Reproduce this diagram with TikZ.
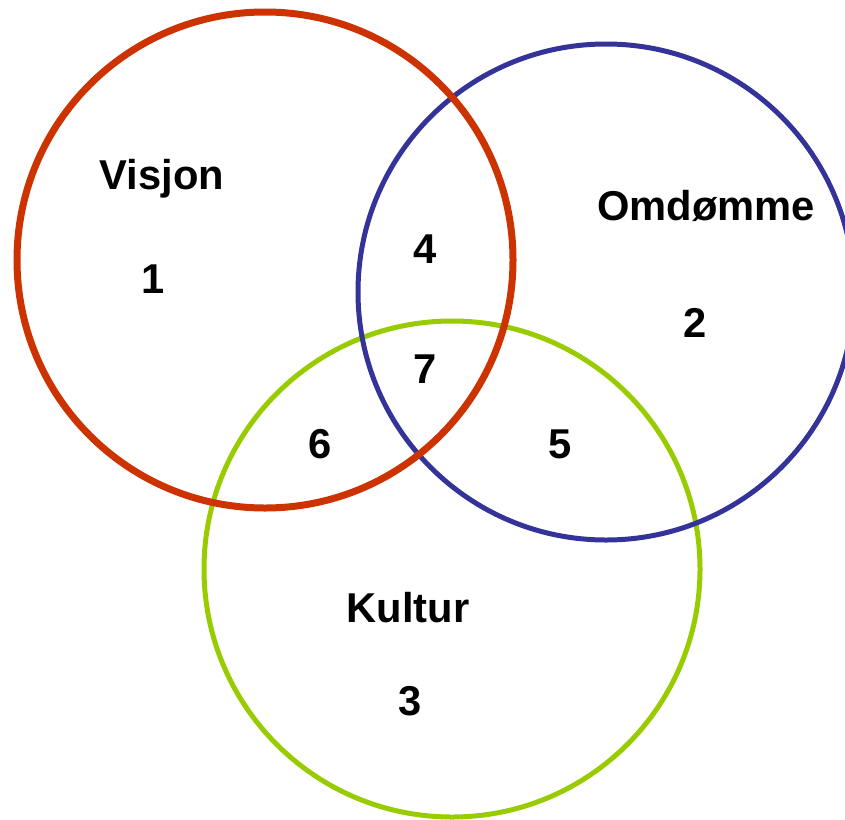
\documentclass[tikz,border=0pt]{standalone}
\usepackage{fontspec}
\setmainfont{Liberation Sans}
\definecolor{vred}{HTML}{CC3300}
\definecolor{vblue}{HTML}{333399}
\definecolor{vgreen}{HTML}{99CC00}
\tikzset{
  lbl/.style={font=\fontsize{41.7}{50}\selectfont\bfseries, inner sep=0pt, anchor=base},
  ring/.style={draw, fill=none}
}
\begin{document}
\begin{tikzpicture}[x=1pt,y=-1pt]
\useasboundingbox (0,0) rectangle (845,819);
\draw[ring, vgreen, line width=5pt] (452,569) circle[radius=248];
\draw[ring, vblue, line width=5pt] (606,292) circle[radius=248];
\draw[ring, vred, line width=7pt] (265,260) circle[radius=248];
\node[lbl] (visjon) at (162,189) {Visjon};
\node[lbl] (omd) at (706,220) {Omdømme};
\node[lbl] (kultur) at (408,622) {Kultur};
\node[lbl] (n1) at (153,293) {1};
\node[lbl] (n2) at (695,337) {2};
\node[lbl] (n3) at (410,715) {3};
\node[lbl] (n4) at (425,263) {4};
\node[lbl] (n5) at (560,458) {5};
\node[lbl] (n6) at (320,458) {6};
\node[lbl] (n7) at (425,383) {7};
\end{tikzpicture}
\end{document}
